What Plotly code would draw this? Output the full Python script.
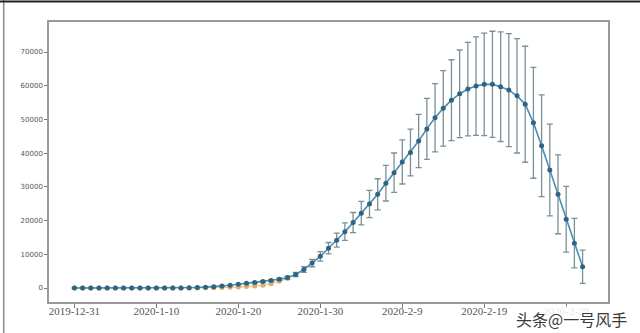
import pandas as pd
import plotly.graph_objects as go

# ---- data ----
start_date = "2019-12-31"
blue_values = [0]*13 + [0, 100, 150, 250, 400, 600, 800, 1100, 1400, 1600, 1900, 2200, 2600, 3100,
               4000, 5500, 7400, 9400, 11800, 14200, 16700, 19400, 22200, 24900, 27800, 31100,
               34200, 37400, 40200, 43600, 47200, 50500, 53300, 55700, 57600, 59000, 59900,
               60400, 60400, 59700, 58700, 57000, 54500, 49000, 42200, 35000, 27800, 20400,
               13300, 6300]
blue_errors = [0]*20 + [100, 150, 200, 250, 300, 350, 450, 600, 850, 1100, 1400, 1700, 2050,
                        2600, 3000, 3500, 4050, 4600, 5300, 5850, 6550, 6950, 7900, 9050, 10150,
                        11200, 12000, 13000, 13850, 14600, 15200, 15750, 16250, 16750, 16950,
                        17200, 16450, 15100, 13600, 11700, 9750, 7350, 4950]
orange_values = [0]*16 + [50, 100, 150, 200, 300, 450, 600, 850, 1300, 2000, 2800]

tick_labels = ["2019-12-31", "2020-1-10", "2020-1-20", "2020-1-30", "2020-2-9", "2020-2-19", "2020-2-29"]
y_ticks = [0, 10000, 20000, 30000, 40000, 50000, 60000, 70000]
watermark = "头条@一号风手"

dates = pd.date_range(start_date, periods=len(blue_values), freq="D")
orange_dates = dates[:len(orange_values)]
tick_dates = pd.date_range(start_date, periods=len(tick_labels), freq="10D")

fig = go.Figure()
fig.add_trace(go.Scatter(
    x=orange_dates, y=orange_values, mode="lines+markers",
    line=dict(color="#f4c995", width=1.5),
    marker=dict(color="#e3ac6c", size=5),
    showlegend=False,
))
fig.add_trace(go.Scatter(
    x=dates, y=blue_values, mode="lines+markers",
    line=dict(color="#4a8db3", width=1.6),
    marker=dict(color="#2f6584", size=5),
    error_y=dict(type="data", array=blue_errors, visible=True,
                 color="#7a9098", thickness=1.3, width=3),
    showlegend=False,
))

x0 = pd.Timestamp(start_date) - pd.Timedelta(days=3.1)
x1 = pd.Timestamp(start_date) + pd.Timedelta(days=65.1)

fig.update_layout(
    width=640, height=333,
    margin=dict(l=49, r=32, t=22, b=31),
    paper_bgcolor="white", plot_bgcolor="white",
    xaxis=dict(
        range=[x0, x1], tickmode="array", tickvals=list(tick_dates), ticktext=tick_labels,
        showgrid=False, zeroline=False, showline=True, linecolor="#9a9a9a", linewidth=1.5,
        mirror=True, ticks="outside", ticklen=4, tickcolor="#777",
        ticklabelstandoff=-6,
        tickfont=dict(family="Liberation Serif", size=11, color="#555"),
    ),
    yaxis=dict(
        range=[-4150, 78900], tickmode="array", tickvals=y_ticks,
        ticktext=[str(v) for v in y_ticks],
        showgrid=False, zeroline=False, showline=True, linecolor="#9a9a9a", linewidth=1.5,
        mirror=True, ticks="outside", ticklen=3, tickcolor="#777",
        tickfont=dict(family="DejaVu Sans", size=7, color="#555"),
    ),
    shapes=[
        dict(type="line", xref="paper", yref="paper", x0=-0.081, x1=-0.081, y0=-0.2, y1=1.1,
             line=dict(color="#8c8c8c", width=1.5)),
        dict(type="line", xref="paper", yref="paper", x0=-0.2, x1=1.2, y0=1.073, y1=1.073,
             line=dict(color="#222", width=2)),
    ],
    annotations=[
        dict(text=watermark, xref="paper", yref="paper", x=1.035, y=-0.06,
             xanchor="right", yanchor="middle", showarrow=False,
             font=dict(family="Noto Sans CJK SC", size=16, color="#3a3a3a"),
             bgcolor="rgba(255,255,255,0.85)", borderpad=0),
    ],
)

fig.write_html("out.html", config={"displayModeBar": False},
               post_script="document.body.style.margin='0';")
